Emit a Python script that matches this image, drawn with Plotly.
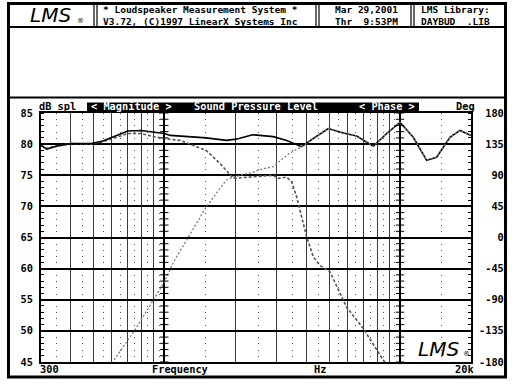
import plotly.graph_objects as go

# ---------------- data ----------------
freq_total = [300, 317, 349, 404, 490, 549, 628, 700, 796, 929, 1000, 1062, 1505, 1831,
              2019, 2369, 2547, 2900, 3304, 3826, 4285, 4962, 5745, 6546, 7700, 8775,
              9990, 11380, 12970, 14300, 16280, 17950, 20000]
db_total = [79.8, 79.2, 79.65, 80.1, 80.1, 80.5, 81.4, 82.1, 82.2, 81.9, 81.7, 81.4, 81.0, 80.6,
            80.8, 81.5, 81.4, 81.2, 80.6, 79.6, 80.9, 82.5, 81.8, 81.3, 79.65, 81.7,
            83.5, 81.1, 77.4, 77.9, 81.1, 82.2, 81.4]

freq_woofer = [300, 317, 349, 404, 490, 549, 628, 700, 796, 900, 1000, 1166, 1505, 1723, 1962,
               2386, 2899, 3044, 3304, 3470, 3645, 3826, 4018, 4285, 4575, 5043, 5937, 6983,
               8487, 9000]
db_woofer = [79.8, 79.3, 79.7, 80.1, 80.0, 80.4, 81.1, 81.7, 81.7, 81.2, 80.9, 80.6, 79.0, 76.9,
             74.5, 74.7, 75.0, 74.5, 74.7, 73.9, 71.5, 68.3, 65.1, 61.9, 60.5, 59.5, 53.8, 50.4,
             45.3, 44.2]

freq_tweeter = [590, 612, 764, 898, 991, 1058, 1092, 1245, 1505, 1831, 1962, 2386, 2547, 2899,
                3387, 3826, 4285, 4962, 5745, 6546, 7700, 8775, 9990, 11380, 12970, 14300,
                16280, 17950, 20000]
db_tweeter = [44.2, 45.3, 50.6, 54.9, 57.6, 59.8, 61.0, 64.6, 69.9, 74.2, 74.7, 75.5, 75.9, 76.4,
              78.5, 79.6, 80.9, 82.5, 81.8, 81.3, 79.65, 81.7, 83.5, 81.1, 77.4, 77.9,
              81.1, 82.2, 81.4]

spl_ticks = [45, 50, 55, 60, 65, 70, 75, 80, 85]
spl_minor = list(range(45, 86))
deg_ticks = [-180, -135, -90, -45, 0, 45, 90, 135, 180]
deg_labels = ["-180", "-135", "-90", "-45", "0", "45", "90", "135", "180"]
major_freqs = [400, 500, 600, 700, 800, 900, 2000, 3000, 4000, 5000, 6000, 7000, 8000, 9000]
decade_freqs = [1000, 10000]
half_freqs = [350, 450, 550, 650, 750, 850, 950, 1500, 2500, 3500, 4500, 5500, 6500, 7500,
              8500, 9500, 15000]

# ---------------- layout helpers ----------------
W, H = 515, 386
L, R, T, B = 41, 471, 113, 362
FONT = "DejaVu Sans Mono"


def px(x):
    return (x - L) / (R - L)


def py(y):
    return (B - y) / (B - T)


def bold(size=10.3, color="black"):
    return dict(family=FONT, size=size, color=color, weight="bold")


fig = go.Figure()

# curves
fig.add_trace(go.Scatter(x=freq_woofer, y=db_woofer, mode="lines",
                         line=dict(color="#555555", width=1.6, dash="3px,2px"),
                         name="woofer", hoverinfo="skip"))
fig.add_trace(go.Scatter(x=freq_total, y=db_total, mode="lines",
                         line=dict(color="black", width=1.6), name="total", hoverinfo="skip"))
fig.add_trace(go.Scatter(x=freq_tweeter, y=db_tweeter, mode="lines",
                         line=dict(color="#777777", width=1.3, dash="2px,2px"),
                         name="tweeter", hoverinfo="skip"))

# tick crosses on decade lines
cx, cy = [], []
for f in decade_freqs:
    for v in spl_minor:
        cx.append(f)
        cy.append(v)
fig.add_trace(go.Scatter(x=cx, y=cy, xaxis="x2", yaxis="y", mode="markers",
                         marker=dict(symbol="line-ew", size=6, line=dict(width=1, color="black")),
                         hoverinfo="skip", showlegend=False))
# anchor trace for the phase axis
fig.add_trace(go.Scatter(x=[300], y=[0], yaxis="y2", mode="markers", marker=dict(opacity=0),
                         hoverinfo="skip", showlegend=False))

shapes = []
# outer frame
shapes.append(dict(type="rect", xref="paper", yref="paper", x0=px(8.5), x1=px(505.5),
                   y0=py(3.5), y1=py(377), line=dict(color="black", width=3)))
# header bottom line
shapes.append(dict(type="line", xref="paper", yref="paper", x0=px(8.5), x1=px(505.5),
                   y0=py(27), y1=py(27), line=dict(color="black", width=2)))
# header separators (double lines)
for xs in (94, 97, 316, 319, 411, 414):
    shapes.append(dict(type="line", xref="paper", yref="paper", x0=px(xs), x1=px(xs),
                       y0=py(4), y1=py(27), line=dict(color="black", width=1.2)))
# line above chart section
shapes.append(dict(type="line", xref="paper", yref="paper", x0=px(8.5), x1=px(505.5),
                   y0=py(97.5), y1=py(97.5), line=dict(color="black", width=2)))
# title bar
shapes.append(dict(type="rect", xref="paper", yref="paper", x0=px(87), x1=px(419),
                   y0=py(102.5), y1=py(111), fillcolor="black", line=dict(width=0)))

ann = []


def txt(s, x, y, anchor="left", font=None, **kw):
    ann.append(dict(text=s, x=px(x), y=py(y), xref="paper", yref="paper", xanchor=anchor,
                    yanchor="middle", showarrow=False, font=font or bold(), **kw))


LOGO = dict(family="DejaVu Sans", size=20, style="italic", color="black")
# header
txt("LMS", 50, 15, anchor="center", font=LOGO)
txt("®", 80, 21, anchor="center", font=dict(family="DejaVu Sans", size=7, color="black"))
HF = bold(size=9.5)
txt("* Loudspeaker Measurement System *<br>V3.72, (C)1997 LinearX Systems Inc",
    101, 15.5, font=HF, align="left")
txt("Mar 29,2001<br>Thr  9:53PM", 333, 15.5, font=HF, align="left")
txt("LMS Library:<br>DAYBUD  .LIB", 419, 15.5, font=HF, align="left")

# chart title bar
txt("dB spl", 37, 106.5)
txt("< Magnitude >", 89, 106.5, font=bold(color="white"))
txt("Sound Pressure Level", 192, 106.5, font=bold(color="white"))
txt("< Phase >", 357, 106.5, font=bold(color="white"))
txt("Deg", 477, 106.5, anchor="right")

# bottom labels
txt("300", 38, 368.5)
txt("Frequency", 150, 368.5)
txt("Hz", 312, 368.5)
txt("20k", 476, 368.5, anchor="right")

# bottom-right logo
txt("LMS", 438, 348.5, anchor="center", font=LOGO)
txt("®", 466, 354, anchor="center", font=dict(family="DejaVu Sans", size=7, color="black"))

pad = [("\u00a0" * (4 - len(s))) + s for s in deg_labels]

fig.update_layout(
    width=W, height=H, autosize=False,
    margin=dict(l=L, r=W - R, t=T, b=H - B, pad=0),
    paper_bgcolor="white", plot_bgcolor="white",
    showlegend=False,
    shapes=shapes, annotations=ann,
    xaxis=dict(type="log", range=[2.47712, 4.30103], tickmode="array", tickvals=major_freqs,
               showticklabels=False, ticks="", showgrid=True, gridcolor="#3a3a3a",
               gridwidth=1.2,
               showline=True, mirror=True, linecolor="black", linewidth=2, zeroline=False,
               minor=dict(tickmode="array", tickvals=half_freqs, showgrid=True,
                          gridcolor="#555555", gridwidth=1, griddash="1px,5.225px", ticks="")),
    xaxis2=dict(type="log", range=[2.47712, 4.30103], overlaying="x", tickmode="array",
                tickvals=decade_freqs, showticklabels=False, ticks="", showgrid=True,
                gridcolor="black", gridwidth=1.6, showline=False, zeroline=False),
    yaxis=dict(range=[45, 85], tickmode="array", tickvals=spl_ticks, ticks="",
               tickfont=bold(), ticklabelstandoff=4, showgrid=True, gridcolor="black",
               gridwidth=1.5, showline=True, mirror=True, linecolor="black", linewidth=2,
               zeroline=False,
               minor=dict(dtick=1, ticks="inside", ticklen=3, tickcolor="black",
                          showgrid=False)),
    yaxis2=dict(range=[-180, 180], overlaying="y", side="right", tickmode="array",
                tickvals=deg_ticks, ticktext=pad, ticks="", tickfont=bold(),
                ticklabelstandoff=7, showgrid=False, showline=False, zeroline=False,
                minor=dict(dtick=9, ticks="inside", ticklen=3, tickcolor="black",
                           showgrid=False)),
)

fig.write_html("out.html")
